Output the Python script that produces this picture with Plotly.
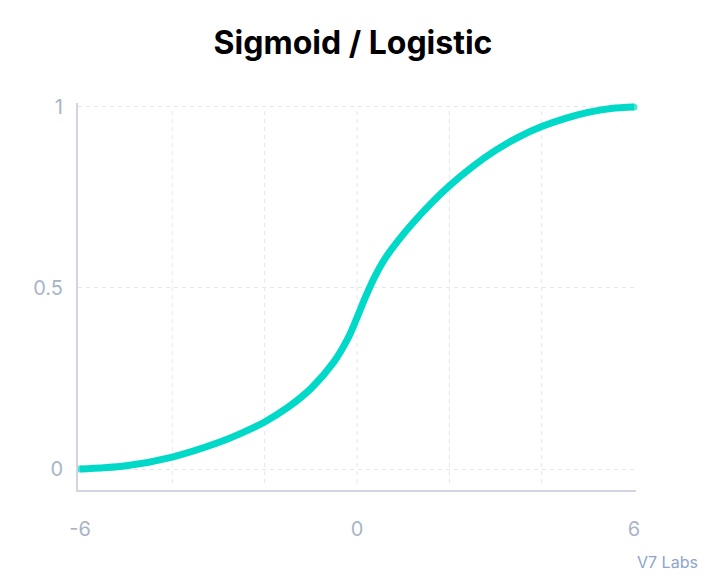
import plotly.graph_objects as go

# Curve values
x_vals = [-6, -5, -4, -3, -2.5, -2, -1.5, -1, -0.5, -0.2, 0, 0.2, 0.4, 0.6, 0.9,
          1.2, 1.6, 2, 2.5, 3, 3.5, 4, 4.5, 5, 5.5, 6]
y_vals = [0, 0.009, 0.033, 0.073, 0.099, 0.130, 0.170, 0.222, 0.296, 0.360, 0.418, 0.480,
          0.535, 0.580, 0.632, 0.678, 0.733, 0.782, 0.835, 0.880, 0.917, 0.946, 0.968,
          0.985, 0.996, 1.0]

x_tick_vals = [-6, 0, 6]
x_tick_text = ["-6", "0", "6"]
x_grid_vals = [-4, -2, 0, 2, 4]
y_tick_vals = [0, 0.5, 1]
y_tick_text = ["0", "0.5", "1"]

title_text = "Sigmoid / Logistic"
credit_text = "V7 Labs"

CURVE = "#00D9C8"
GRID = "#E3E6EE"
AXIS = "#D0D5E1"
TICK = "#A9B4C8"

W, H = 708, 571
L, R, T, B = 70, 80, 95, 89
PW, PH = W - L - R, H - T - B

fig = go.Figure()
sizes = [7] + [0] * (len(x_vals) - 2) + [7]
fig.add_trace(go.Scatter(
    x=x_vals, y=y_vals, mode="lines+markers",
    line=dict(color=CURVE, width=7, shape="spline", smoothing=1.0),
    marker=dict(size=sizes, color=CURVE, line=dict(width=0)),
    cliponaxis=False, hoverinfo="skip", showlegend=False,
))

for gx in x_grid_vals:
    fig.add_shape(type="line", xref="x", yref="y", x0=gx, x1=gx, y0=-0.039, y1=1.0,
                  line=dict(color=GRID, width=1, dash="4px,4px"), layer="below")

fig.update_layout(
    width=W, height=H,
    margin=dict(l=L, r=R, t=T, b=B, autoexpand=False),
    paper_bgcolor="white", plot_bgcolor="white",
    font=dict(family="Inter, sans-serif"),
    title=dict(text="<b>" + title_text + "</b>", x=345 / W, xanchor="center",
               y=1 - 35 / H, yanchor="middle", yref="container",
               font=dict(family="Inter, sans-serif", size=32, color="#000000")),
    xaxis=dict(range=[-6.043, 6.043], tickvals=x_tick_vals, ticktext=x_tick_text,
               showgrid=False, zeroline=False, showline=True, linecolor=AXIS, linewidth=2,
               ticks="outside", ticklen=20, tickcolor="rgba(0,0,0,0)",
               tickfont=dict(family="Inter, sans-serif", size=20, color=TICK)),
    yaxis=dict(range=[-0.058, 1.011], tickvals=y_tick_vals, ticktext=y_tick_text,
               showgrid=True, gridcolor=GRID, gridwidth=1, griddash="4px,4px",
               zeroline=False, showline=True, linecolor=AXIS, linewidth=2,
               ticks="outside", ticklen=9, tickcolor="rgba(0,0,0,0)",
               tickfont=dict(family="Inter, sans-serif", size=20, color=TICK)),
    annotations=[dict(text=credit_text, xref="paper", yref="paper",
                      x=(692 - L) / PW, xanchor="right",
                      y=-(554 - (H - B)) / PH, yanchor="middle", showarrow=False,
                      font=dict(family="Inter, sans-serif", size=16, color="#8CA5C8"))],
)

fig.write_html("out.html")
